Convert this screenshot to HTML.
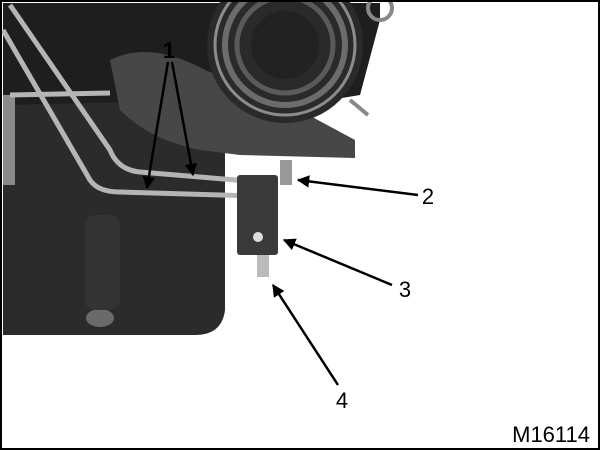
<!DOCTYPE html>
<html><head><meta charset="utf-8"><style>
html,body{margin:0;padding:0;background:#fff;}
svg{display:block;}
text{font-family:"Liberation Sans",sans-serif;fill:#000;}
</style></head><body>
<svg width="600" height="450" viewBox="0 0 600 450">
<defs>
<marker id="ah" viewBox="0 0 10 10" refX="9" refY="5" markerWidth="5" markerHeight="5" orient="auto"><path d="M0,0 L10,5 L0,10 z" fill="#000"/></marker>
</defs>
<rect x="0" y="0" width="600" height="450" fill="#fff"/>
<g>
<polygon points="3,3 380,3 380,20 360,95 330,100 230,100 200,115 3,110" fill="#1e1e1e"/>
<path d="M3,105 L225,100 L225,310 Q222,335 195,335 L3,335 Z" fill="#2b2b2b"/>
<rect x="3" y="95" width="12" height="90" fill="#8a8a8a"/>
<ellipse cx="100" cy="318" rx="14" ry="9" fill="#6a6a6a"/>
<rect x="85" y="215" width="35" height="95" fill="#333" rx="10"/>
<path d="M110,60 Q150,40 205,70 L290,105 L355,140 L355,158 L240,155 L200,150 Q150,140 120,110 Z" fill="#474747"/>
<circle cx="285" cy="45" r="78" fill="#2a2a2a"/>
<circle cx="285" cy="45" r="70" fill="none" stroke="#8c8c8c" stroke-width="3"/>
<circle cx="285" cy="45" r="60" fill="none" stroke="#6c6c6c" stroke-width="6"/>
<circle cx="285" cy="45" r="48" fill="none" stroke="#5a5a5a" stroke-width="5"/>
<circle cx="285" cy="45" r="34" fill="#222"/>
<circle cx="380" cy="8" r="12" fill="none" stroke="#888" stroke-width="4"/>
<line x1="350" y1="100" x2="368" y2="115" stroke="#888" stroke-width="4"/>
</g>
<g fill="none" stroke="#b5b5b5" stroke-width="5">
<path d="M10,5 L110,150 Q118,170 140,172 L260,182"/>
<path d="M3,30 L90,180 Q98,192 120,192 L255,196"/>
<line x1="10" y1="95" x2="110" y2="93"/>
</g>
<rect x="237" y="175" width="41" height="80" rx="3" fill="#3a3a3a"/>
<circle cx="258" cy="237" r="5" fill="#ddd"/>
<rect x="257" y="255" width="12" height="22" fill="#bbb"/>
<rect x="280" y="160" width="12" height="25" fill="#999"/>
<g stroke="#000" stroke-width="2.5" marker-end="url(#ah)">
<line x1="168" y1="62" x2="147" y2="188"/>
<line x1="172" y1="62" x2="193" y2="175"/>
<line x1="418" y1="195" x2="298" y2="180"/>
<line x1="392" y1="285" x2="284" y2="240"/>
<line x1="338" y1="385" x2="273" y2="285"/>
</g>
<text x="169" y="58" font-size="22" font-weight="bold" text-anchor="middle">1</text>
<text x="428" y="204" font-size="22" text-anchor="middle">2</text>
<text x="405" y="297" font-size="22" text-anchor="middle">3</text>
<text x="342" y="408" font-size="22" text-anchor="middle">4</text>
<text x="590" y="442" font-size="22" text-anchor="end">M16114</text>
<rect x="1" y="1" width="598" height="448" fill="none" stroke="#000" stroke-width="2"/>
</svg>
</body></html>
